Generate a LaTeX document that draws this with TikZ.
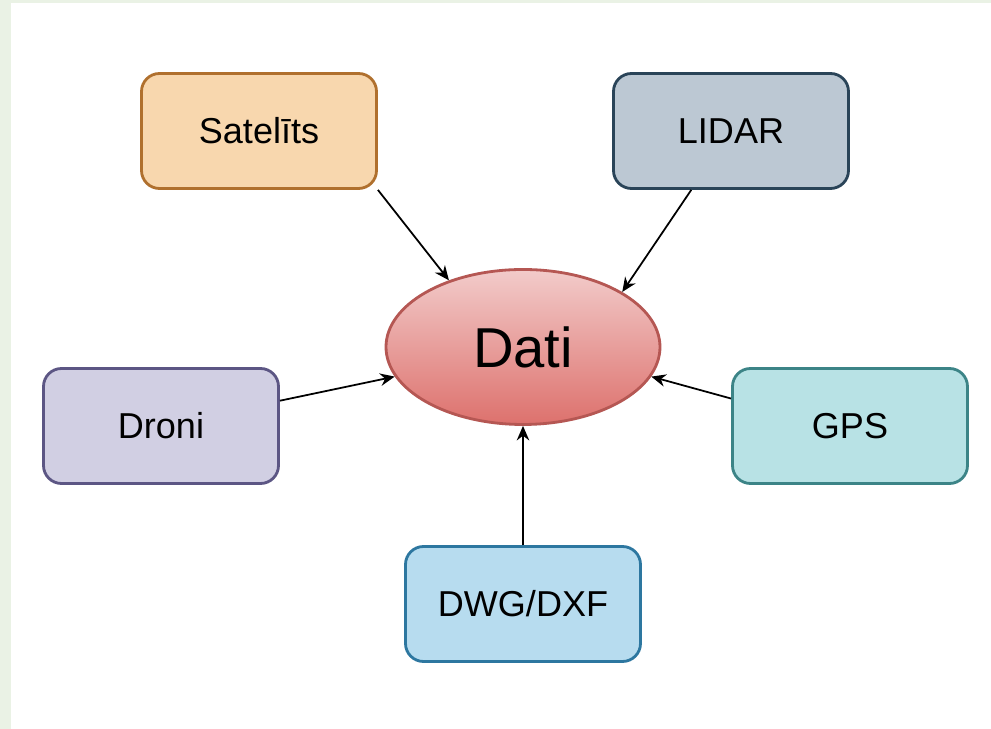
\documentclass[tikz,border=0pt]{standalone}
\usepackage{fontspec}
\setmainfont{Liberation Sans}
\usepackage{xcolor}
\usepackage{tikz}
\usetikzlibrary{shapes.geometric,positioning,arrows.meta}

\definecolor{satfill}{HTML}{F8D7AE}
\definecolor{satline}{HTML}{B0702E}
\definecolor{lidfill}{HTML}{BCC8D3}
\definecolor{lidline}{HTML}{2A4458}
\definecolor{drofill}{HTML}{D1CFE3}
\definecolor{droline}{HTML}{5C5684}
\definecolor{gpsfill}{HTML}{B8E2E5}
\definecolor{gpsline}{HTML}{3C8487}
\definecolor{dwgfill}{HTML}{B7DCEF}
\definecolor{dwgline}{HTML}{2D77A0}
\definecolor{datitop}{HTML}{F2CBCA}
\definecolor{datibot}{HTML}{DD716D}
\definecolor{datiline}{HTML}{B55753}
\definecolor{frame}{HTML}{EAF2E5}

\begin{document}
\begin{tikzpicture}[
            feed/.style={-{Stealth[length=2.9mm, width=2.5mm]}, line width=1pt},
            source/.style={rectangle, rounded corners=0.36cm, line width=1.6pt, minimum width=4.7cm, minimum height=2.3cm, font=\fontsize{20.5}{24}\selectfont},
            hub/.style={ellipse, line width=1.6pt, draw=datiline, top color=datitop, bottom color=datibot, minimum width=5.48cm, minimum height=3.1cm, inner sep=0pt, font=\fontsize{32}{38}\selectfont}
        ]

        \fill[frame] (0,0) rectangle (19.82,14.58);
        \fill[white] (0.22,0) rectangle (19.82,14.52);
        \useasboundingbox (0,0) rectangle (19.82,14.58);

        \node[hub] (dati) at (10.46,7.64) {Dati};
        \node[source, draw=satline, fill=satfill] (sat) at (5.18,11.96) {Satelīts};
        \node[source, draw=lidline, fill=lidfill] (lidar) at (14.62,11.96) {LIDAR};
        \node[source, draw=droline, fill=drofill] (droni) at (3.22,6.06) {Droni};
        \node[source, draw=gpsline, fill=gpsfill] (gps) at (17.0,6.06) {GPS};
        \node[source, draw=dwgline, fill=dwgfill] (dwg) at (10.46,2.5) {DWG/DXF};

        \draw[feed] (sat.south east) -- (dati.138);
        \draw[feed] (lidar.236) -- (dati.29);
        \draw[feed] (droni.12) -- (dati.193);
        \draw[feed] (gps.167) -- (dati.347);
        \draw[feed] (dwg) -- (dati);

    \end{tikzpicture}
\end{document}
